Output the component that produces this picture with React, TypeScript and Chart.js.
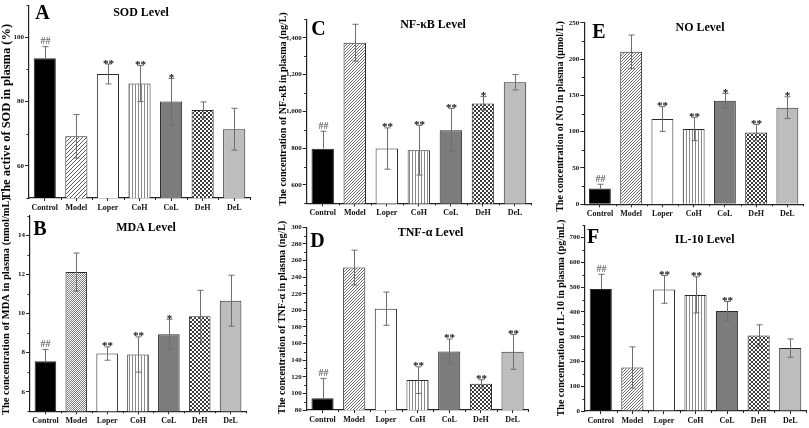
import React, { useEffect, useRef } from "react";
import { Chart, registerables } from "chart.js";

Chart.register(...registerables);

// ---------------- data ----------------
const groups = ["Control", "Model", "Loper", "CoH", "CoL", "DeH", "DeL"];

const sodMean = [93.5, 69.2, 88.6, 85.6, 80.0, 77.4, 71.4];
const sodErr = [3.6, 6.8, 3.1, 5.6, 7.2, 2.5, 6.5];
const sodSig = ["##", "", "**", "**", "*", "", ""];

const mdaMean = [7.56, 12.11, 7.95, 7.9, 8.93, 9.85, 10.65];
const mdaErr = [0.6, 0.97, 0.34, 0.9, 0.77, 1.33, 1.3];
const mdaSig = ["##", "", "**", "**", "*", "", ""];

const nfkbMean = [797, 1373, 798, 789, 898, 1043, 1158];
const nfkbErr = [95, 100, 112, 135, 118, 37, 42];
const nfkbSig = ["##", "", "**", "**", "**", "*", ""];

const tnfMean = [94, 251.5, 202, 116, 150.5, 111.5, 150];
const tnfErr = [24, 21, 20, 16, 15, 5, 21];
const tnfSig = ["##", "", "", "**", "**", "**", "**"];

const noMean = [21.6, 210, 117.4, 103.7, 142.7, 99, 133];
const noErr = [6, 23, 17, 16, 10, 11, 15];
const noSig = ["##", "", "**", "**", "*", "**", "*"];

const il10Mean = [493, 176, 491, 469, 404, 305, 254];
const il10Err = [59, 83, 56, 73, 38, 43, 37];
const il10Sig = ["##", "", "**", "**", "**", "", ""];

const sodTicks = [60, 80, 100];
const mdaTicks = [6, 8, 10, 12, 14];
const nfkbTicks = [600, 800, 1000, 1200, 1400];
const tnfTicks = [80, 100, 120, 140, 160, 180, 200, 220, 240, 260, 280, 300];
const noTicks = [0, 50, 100, 150, 200, 250];
const il10Ticks = [0, 100, 200, 300, 400, 500, 600, 700];

// ---------------- layout / style ----------------
const FAMILY = "'Liberation Serif', 'Times New Roman', serif";

type Panel = {
  id: string;
  canvas: { x: number; y: number; w: number; h: number };
  area: { l: number; t: number; r: number; b: number };
  min: number;
  max: number;
  ticks: number[];
  minorStep: number;
  means: number[];
  errs: number[];
  sig: string[];
  header: string;
  headerPos: [number, number];
  letterPos: [number, number];
  yTitle: string;
  yTitlePos: [number, number];
  yTitleSize: number;
  modelPattern: string;
};

const panels: Panel[] = [
  {
    id: "A", canvas: { x: 0, y: 0, w: 262, h: 220 }, area: { l: 29, t: 1.5, r: 250, b: 198 },
    min: 50, max: 110, ticks: sodTicks, minorStep: 10, means: sodMean, errs: sodErr, sig: sodSig,
    header: "SOD Level", headerPos: [141, 16], letterPos: [42.5, 18.5],
    yTitle: "The active of SOD in plasma (%)", yTitlePos: [7, 112], yTitleSize: 12.5, modelPattern: "diagWide",
  },
  {
    id: "B", canvas: { x: 0, y: 195, w: 262, h: 233 }, area: { l: 30, t: 215.5, r: 246, b: 411.3 },
    min: 5, max: 15, ticks: mdaTicks, minorStep: 1, means: mdaMean, errs: mdaErr, sig: mdaSig,
    header: "MDA Level", headerPos: [146, 231], letterPos: [40, 235],
    yTitle: "The concentration of MDA in plasma (nmol/mL)", yTitlePos: [6, 306], yTitleSize: 10.5, modelPattern: "dotFine",
  },
  {
    id: "C", canvas: { x: 268, y: 0, w: 272, h: 220 }, area: { l: 306.7, t: 19.3, r: 531, b: 203.4 },
    min: 500, max: 1500, ticks: nfkbTicks, minorStep: 100, means: nfkbMean, errs: nfkbErr, sig: nfkbSig,
    header: "NF-\u03BAB Level", headerPos: [433, 27.5], letterPos: [318.5, 35],
    yTitle: "The concentration of NF-\u03BAB in plasma (ng/L)", yTitlePos: [283.5, 109], yTitleSize: 10, modelPattern: "diagFine",
  },
  {
    id: "D", canvas: { x: 268, y: 195, w: 272, h: 233 }, area: { l: 306.7, t: 227.3, r: 528.4, b: 410 },
    min: 80, max: 300, ticks: tnfTicks, minorStep: 10, means: tnfMean, errs: tnfErr, sig: tnfSig,
    header: "TNF-\u03B1 Level", headerPos: [430.5, 235.5], letterPos: [317.5, 247.3],
    yTitle: "The concentration of TNF-\u03B1 in plasma (ng/L)", yTitlePos: [282, 317.5], yTitleSize: 10, modelPattern: "diagFine",
  },
  {
    id: "E", canvas: { x: 545, y: 0, w: 264, h: 220 }, area: { l: 584.3, t: 22.7, r: 803, b: 204.3 },
    min: 0, max: 250, ticks: noTicks, minorStep: 25, means: noMean, errs: noErr, sig: noSig,
    header: "NO Level", headerPos: [700, 30.5], letterPos: [599, 38.3],
    yTitle: "The concentration of NO in plasma (\u03BCmol/L)", yTitlePos: [560, 116.5], yTitleSize: 10, modelPattern: "diagFine",
  },
  {
    id: "F", canvas: { x: 545, y: 195, w: 264, h: 233 }, area: { l: 585, t: 225.3, r: 806, b: 411 },
    min: 0, max: 750, ticks: il10Ticks, minorStep: 50, means: il10Mean, errs: il10Err, sig: il10Sig,
    header: "IL-10 Level", headerPos: [704.7, 242.5], letterPos: [593, 243.3],
    yTitle: "The concentration of IL-10 in plasma (pg/mL)", yTitlePos: [561, 318], yTitleSize: 10, modelPattern: "diagFine",
  },
];

function makePattern(kind: string): CanvasPattern | string {
  const c = document.createElement("canvas");
  const g = c.getContext("2d");
  if (!g) return "#999";
  const diag = (size: number, color: string, lw: number) => {
    c.width = size; c.height = size;
    g.fillStyle = "#ffffff"; g.fillRect(0, 0, size, size);
    g.strokeStyle = color; g.lineWidth = lw;
    g.beginPath();
    g.moveTo(0, size); g.lineTo(size, 0);
    g.moveTo(-1, 1); g.lineTo(1, -1);
    g.moveTo(size - 1, size + 1); g.lineTo(size + 1, size - 1);
    g.stroke();
  };
  if (kind === "diagWide") diag(4, "#4a4a4a", 0.9);
  else if (kind === "diagFine") diag(3, "#5e5e5e", 0.9);
  else if (kind === "dotFine") {
    c.width = 2; c.height = 2;
    g.fillStyle = "#ffffff"; g.fillRect(0, 0, 2, 2);
    g.fillStyle = "#808080"; g.fillRect(0, 0, 1, 1); g.fillRect(1, 1, 1, 1);
  } else if (kind === "vert") {
    c.width = 3; c.height = 1;
    g.fillStyle = "#ffffff"; g.fillRect(0, 0, 3, 1);
    g.fillStyle = "#8a8a8a"; g.fillRect(0, 0, 1, 1);
  } else if (kind === "checker") {
    c.width = 4; c.height = 4;
    g.fillStyle = "#ffffff"; g.fillRect(0, 0, 4, 4);
    g.fillStyle = "#3a3a3a"; g.fillRect(0, 0, 2, 2); g.fillRect(2, 2, 2, 2);
  }
  return g.createPattern(c, "repeat") || "#999";
}

function makeDecor(p: Panel) {
  return {
    id: "decor" + p.id,
    afterDatasetsDraw(chart: any) {
      const { ctx } = chart;
      const x = chart.scales.x;
      const y = chart.scales.y;
      const ox = p.canvas.x;
      const oy = p.canvas.y;
      ctx.save();
      // minor ticks
      ctx.strokeStyle = "#222";
      ctx.lineWidth = 1;
      ctx.beginPath();
      for (let v = p.min; v <= p.max + 1e-9; v += p.minorStep) {
        if (p.ticks.some((t) => Math.abs(t - v) < 1e-9)) continue;
        const py = Math.round(y.getPixelForValue(v)) + 0.5;
        ctx.moveTo(x.left - 2.5, py);
        ctx.lineTo(x.left, py);
      }
      const catW = (x.right - x.left) / groups.length;
      for (let k = 1; k <= groups.length; k++) {
        const px = Math.round(x.left + k * catW) + 0.5;
        ctx.moveTo(px, y.bottom);
        ctx.lineTo(px, y.bottom + 2);
      }
      ctx.stroke();

      // error bars + significance
      const meta = chart.getDatasetMeta(0);
      meta.data.forEach((bar: any, i: number) => {
        const m = p.means[i];
        const e = p.errs[i];
        const cx = Math.round(bar.x) + 0.5;
        const yTop = y.getPixelForValue(m + e);
        const yMid = y.getPixelForValue(m);
        const yBot = Math.min(y.getPixelForValue(m - e), y.bottom);
        ctx.strokeStyle = "#6e6e6e";
        ctx.lineWidth = 1;
        ctx.beginPath();
        ctx.moveTo(cx, yTop);
        ctx.lineTo(cx, i === 0 ? yMid : yBot);
        ctx.moveTo(cx - 3, yTop);
        ctx.lineTo(cx + 3, yTop);
        if (i !== 0) {
          ctx.moveTo(cx - 3, yBot);
          ctx.lineTo(cx + 3, yBot);
        }
        ctx.stroke();
        const s = p.sig[i];
        if (s) {
          ctx.textAlign = "center";
          ctx.textBaseline = "alphabetic";
          if (s.startsWith("#")) {
            ctx.font = `bold 10px ${FAMILY}`;
            ctx.fillStyle = "#707070";
            ctx.fillText(s, cx, yTop - 2.5);
          } else {
            ctx.font = `bold 11px ${FAMILY}`;
            ctx.fillStyle = "#111";
            ctx.fillText(s, cx, yTop + 2.5);
          }
        }
      });

      // panel letter
      ctx.fillStyle = "#000";
      ctx.textAlign = "center";
      ctx.textBaseline = "alphabetic";
      ctx.font = `bold 20px ${FAMILY}`;
      ctx.fillText(p.id, p.letterPos[0] - ox, p.letterPos[1] - oy);
      // header
      ctx.font = `bold 12px ${FAMILY}`;
      ctx.fillText(p.header, p.headerPos[0] - ox, p.headerPos[1] - oy);
      // y title
      ctx.translate(p.yTitlePos[0] - ox, p.yTitlePos[1] - oy);
      ctx.rotate(-Math.PI / 2);
      ctx.textBaseline = "middle";
      ctx.font = `bold ${p.yTitleSize}px ${FAMILY}`;
      ctx.fillText(p.yTitle, 0, 0);
      ctx.restore();
    },
  };
}

function buildChart(canvas: HTMLCanvasElement, p: Panel) {
  const fills: (CanvasPattern | string)[] = [
    "#000000",
    makePattern(p.modelPattern),
    "#ffffff",
    makePattern("vert"),
    "#7c7c7c",
    makePattern("checker"),
    "#bdbdbd",
  ];
  const yw = p.area.l - p.canvas.x;
  const padTop = p.area.t - p.canvas.y;
  const padRight = p.canvas.x + p.canvas.w - p.area.r;
  const xh = p.canvas.y + p.canvas.h - p.area.b;
  return new Chart(canvas, {
    type: "bar",
    data: {
      labels: groups,
      datasets: [
        {
          data: p.means,
          backgroundColor: fills as any,
          borderColor: "#2a2a2a",
          borderWidth: 1,
          barPercentage: 0.7,
          categoryPercentage: 1,
        },
      ],
    },
    options: {
      animation: false,
      responsive: false,
      maintainAspectRatio: false,
      devicePixelRatio: 1,
      layout: { padding: { left: 0, top: padTop, right: padRight, bottom: 0 }, autoPadding: false } as any,
      plugins: { legend: { display: false }, tooltip: { enabled: false }, title: { display: false } },
      scales: {
        x: {
          grid: { display: true, drawOnChartArea: false, drawTicks: true, tickLength: 3, color: "#222", offset: false },
          border: { display: true, color: "#222", width: 1.2 },
          ticks: { font: { family: FAMILY, size: 8, weight: "bold" }, color: "#111", padding: 2, maxRotation: 0, autoSkip: false },
          afterFit: (s: any) => { s.height = xh; },
        },
        y: {
          min: p.min,
          max: p.max,
          afterBuildTicks: (s: any) => { s.ticks = p.ticks.map((v) => ({ value: v })); },
          grid: { display: true, drawOnChartArea: false, drawTicks: true, tickLength: 4, color: "#222" },
          border: { display: true, color: "#222", width: 1.2 },
          ticks: { font: { family: FAMILY, size: 7, weight: "bold" }, color: "#111", padding: 1 },
          afterFit: (s: any) => { s.width = yw; },
        },
      },
    } as any,
    plugins: [makeDecor(p)],
  });
}

export default function App() {
  const refs = useRef<(HTMLCanvasElement | null)[]>([]);
  useEffect(() => {
    const charts = panels.map((p, i) => buildChart(refs.current[i] as HTMLCanvasElement, p));
    return () => charts.forEach((c) => c.destroy());
  }, []);
  return (
    <div style={{ position: "absolute", left: 0, top: 0, width: 809, height: 428, background: "#ffffff", overflow: "hidden" }}>
      {panels.map((p, i) => (
        <canvas
          key={p.id}
          ref={(el) => { refs.current[i] = el; }}
          width={p.canvas.w}
          height={p.canvas.h}
          style={{ position: "absolute", left: p.canvas.x, top: p.canvas.y, width: p.canvas.w, height: p.canvas.h }}
        />
      ))}
    </div>
  );
}
